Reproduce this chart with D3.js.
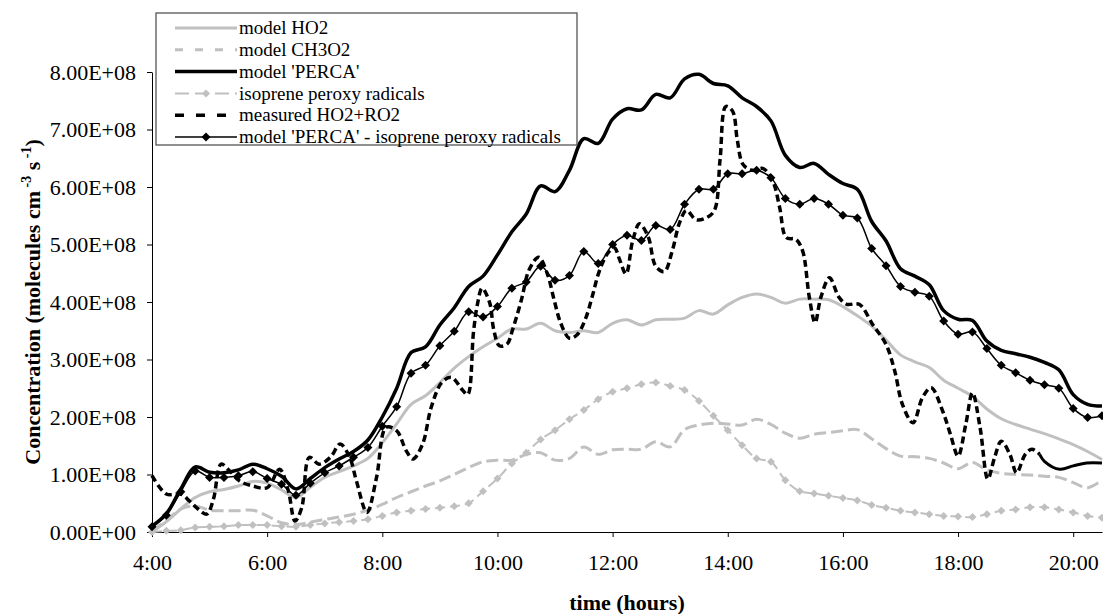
<!DOCTYPE html>
<html>
<head>
<meta charset="utf-8">
<script src="https://cdn.jsdelivr.net/npm/d3@7"></script>
<style>
  body { margin: 0; background: #fff; }
  svg { display: block; }
</style>
</head>
<body>
<svg id="chart" width="1103" height="614"></svg>
<script>
// Concentrations are given in units of 1e8 molecules cm^-3 s^-1.
const UNIT = 1e8;
const FONT = "'Liberation Serif', 'Times New Roman', Times, serif";

// Model output, every 15 minutes
const modelTimes = ["4:00","4:15","4:30","4:45","5:00","5:15","5:30","5:45","6:00","6:15","6:30","6:45",
  "7:00","7:15","7:30","7:45","8:00","8:15","8:30","8:45","9:00","9:15","9:30","9:45",
  "10:00","10:15","10:30","10:45","11:00","11:15","11:30","11:45","12:00","12:15","12:30","12:45",
  "13:00","13:15","13:30","13:45","14:00","14:15","14:30","14:45","15:00","15:15","15:30","15:45",
  "16:00","16:15","16:30","16:45","17:00","17:15","17:30","17:45","18:00","18:15","18:30","18:45",
  "19:00","19:15","19:30","19:45","20:00","20:15","20:30"];

const modelHO2 = [0.00,0.18,0.40,0.60,0.70,0.74,0.80,0.88,0.85,0.73,0.60,0.78,
  0.95,1.05,1.15,1.28,1.55,1.88,2.22,2.37,2.60,2.85,3.05,3.22,
  3.37,3.53,3.53,3.63,3.50,3.47,3.50,3.47,3.63,3.69,3.60,3.69,
  3.70,3.72,3.85,3.79,3.95,4.08,4.14,4.08,3.98,4.05,4.05,4.04,
  3.92,3.76,3.58,3.34,3.08,2.96,2.86,2.64,2.50,2.36,2.14,1.97,
  1.87,1.79,1.71,1.62,1.52,1.40,1.26];

const modelCH3O2 = [0.02,0.20,0.40,0.45,0.38,0.37,0.37,0.38,0.28,0.16,0.13,0.17,
  0.22,0.26,0.31,0.38,0.48,0.60,0.70,0.80,0.89,1.00,1.12,1.22,
  1.25,1.25,1.35,1.38,1.25,1.28,1.48,1.35,1.43,1.44,1.44,1.57,
  1.48,1.78,1.86,1.89,1.88,1.86,1.96,1.87,1.72,1.63,1.70,1.73,
  1.76,1.78,1.62,1.45,1.32,1.31,1.28,1.20,1.10,1.21,1.08,1.02,
  1.00,0.99,0.97,0.95,0.86,0.77,0.90];

const modelPERCA = [0.10,0.32,0.75,1.13,1.04,1.03,1.08,1.18,1.10,0.97,0.75,0.93,
  1.12,1.27,1.40,1.60,2.00,2.50,3.12,3.22,3.60,3.90,4.27,4.45,
  4.82,5.22,5.53,6.02,5.92,6.29,6.84,6.76,7.18,7.36,7.34,7.61,
  7.55,7.88,7.96,7.80,7.76,7.55,7.40,7.15,6.55,6.34,6.41,6.22,
  6.06,5.96,5.40,5.06,4.58,4.45,4.30,3.85,3.70,3.68,3.32,3.16,
  3.10,3.04,2.95,2.82,2.39,2.22,2.19];

const isopreneRO2 = [0.00,0.02,0.03,0.08,0.09,0.10,0.12,0.12,0.12,0.10,0.09,0.12,
  0.15,0.17,0.19,0.22,0.28,0.34,0.37,0.40,0.42,0.45,0.50,0.71,
  0.93,1.19,1.38,1.61,1.77,1.96,2.12,2.31,2.44,2.50,2.57,2.60,
  2.54,2.47,2.28,2.02,1.77,1.51,1.28,1.22,0.90,0.71,0.67,0.63,
  0.59,0.55,0.47,0.42,0.37,0.34,0.31,0.28,0.27,0.26,0.31,0.37,
  0.39,0.43,0.43,0.39,0.34,0.28,0.25];

const percaMinusIsoprene = [0.09,0.29,0.70,1.06,0.95,0.95,0.98,1.05,0.93,0.83,0.64,0.85,
  1.03,1.15,1.30,1.47,1.84,2.18,2.76,2.90,3.24,3.49,3.83,3.74,
  3.92,4.24,4.35,4.62,4.38,4.46,4.88,4.67,5.00,5.16,5.07,5.33,
  5.26,5.70,5.96,5.96,6.23,6.23,6.29,6.16,5.80,5.70,5.80,5.70,
  5.51,5.46,4.93,4.63,4.27,4.17,4.10,3.67,3.44,3.48,3.19,2.90,
  2.77,2.64,2.56,2.50,2.15,1.99,2.02];

// PERCA measurements of HO2+RO2
const measTimes = ["4:00","4:15","4:30","4:39","4:48","4:57","5:04","5:12","5:21","5:31","5:45","6:00",
  "6:13","6:22","6:29","6:36","6:44","6:54","7:06","7:16","7:26","7:33","7:44","7:54",
  "8:04","8:15","8:25","8:32","8:42","8:51","9:02","9:12","9:24","9:29","9:35","9:39",
  "9:44","9:52","9:56","10:02","10:10","10:16","10:25","10:33","10:43","10:52","10:59","11:06",
  "11:15","11:23","11:32","11:39","11:46","11:55","12:02","12:07","12:14","12:21","12:28","12:37",
  "12:45","12:54","13:02","13:10","13:17","13:27","13:37","13:46","13:52","13:58","14:05","14:10",
  "14:16","14:26","14:37","14:47","14:54","15:01","15:11","15:18","15:25","15:31","15:37","15:46",
  "15:56","16:04","16:17","16:31","16:45","16:54","17:02","17:13","17:23","17:32","17:44","17:52",
  "18:00","18:08","18:15","18:23","18:31","18:38","18:45","18:54","19:01","19:10","19:17","19:25",
  "19:30","19:46","20:00","20:14","20:30"];

const measHO2RO2 = [0.98,0.66,0.66,0.54,0.40,0.31,0.57,1.18,1.06,0.89,0.80,0.77,
  1.09,0.72,0.19,0.42,1.30,1.18,1.30,1.53,1.30,0.89,0.34,0.95,
  1.82,1.76,1.41,1.27,1.53,2.17,2.60,2.69,2.46,2.39,3.47,3.95,
  4.24,3.98,3.53,3.24,3.27,3.53,4.04,4.56,4.78,4.49,4.04,3.63,
  3.37,3.43,3.72,4.11,4.53,4.85,4.94,4.75,4.49,5.07,5.36,5.14,
  4.62,4.53,4.88,5.39,5.59,5.43,5.46,5.59,6.48,7.40,7.32,6.81,
  6.39,6.29,6.32,6.10,5.65,5.12,5.09,4.89,4.08,3.64,4.08,4.42,
  4.08,3.96,3.96,3.61,3.26,2.80,2.22,1.90,2.34,2.51,2.10,1.70,
  1.32,1.87,2.42,1.81,0.92,1.29,1.58,1.35,1.03,1.35,1.44,1.35,
  1.23,1.09,1.15,1.20,1.20];
// from this time on the measurements are dense enough that the dashes run together
const measDenseFrom = "19:25";

const yTicks = [0, 1, 2, 3, 4, 5, 6, 7, 8];
const xTickLabels = ["4:00","6:00","8:00","10:00","12:00","14:00","16:00","18:00","20:00"];

const toHours = s => { const [h, m] = s.split(":").map(Number); return h + m / 60; };

const svg = d3.select("#chart").attr("font-family", FONT);

const x = d3.scaleLinear().domain([4, 20.5]).range([152, 1102]);
const y = d3.scaleLinear().domain([0, 8]).range([532, 72]);

const fmtSci = v => {
  const [m, e] = (v * UNIT).toExponential(2).split("e");
  const sign = e[0] === "-" ? "-" : "+";
  const digits = e.replace(/[+-]/, "").padStart(2, "0");
  return `${m}E${sign}${digits}`;
};

// Axes
const xAxis = d3.axisBottom(x)
  .tickValues(xTickLabels.map(toHours))
  .tickFormat((d, i) => xTickLabels[i])
  .tickSize(5).tickSizeOuter(0).tickPadding(17);
const gx = svg.append("g").attr("transform", `translate(0,${y(0)})`).call(xAxis)
  .attr("font-family", FONT).attr("font-size", 22);
gx.select(".domain").attr("stroke", "#000").attr("stroke-width", 1);
gx.selectAll(".tick line").attr("stroke", "#000");
gx.selectAll("text").attr("fill", "#000");

const yAxis = d3.axisLeft(y)
  .tickValues(yTicks)
  .tickFormat(fmtSci)
  .tickSize(5).tickSizeOuter(0).tickPadding(11);
const gy = svg.append("g").attr("transform", `translate(${x(4)},0)`).call(yAxis)
  .attr("font-family", FONT).attr("font-size", 22);
gy.select(".domain").attr("stroke", "#000").attr("stroke-width", 1);
gy.selectAll(".tick line").attr("stroke", "#000");
gy.selectAll("text").attr("fill", "#000");

// Axis titles
svg.append("text")
  .attr("x", (x.range()[0] + x.range()[1]) / 2).attr("y", 610)
  .attr("text-anchor", "middle").attr("font-family", FONT)
  .attr("font-size", 22).attr("font-weight", "bold")
  .text("time (hours)");

const yt = svg.append("text")
  .attr("transform", `translate(40,${(y(0) + y(8)) / 2}) rotate(-90)`)
  .attr("text-anchor", "middle").attr("font-family", FONT)
  .attr("font-size", 22).attr("font-weight", "bold");
yt.append("tspan").text("Concentration (molecules cm");
yt.append("tspan").attr("font-size", 14).attr("dy", -9).text(" -3");
yt.append("tspan").attr("dy", 9).text(" s");
yt.append("tspan").attr("font-size", 14).attr("dy", -9).text(" -1");
yt.append("tspan").attr("dy", 9).text(")");

// Series
const modelH = modelTimes.map(toHours);
const measH = measTimes.map(toHours);
const pts = (hours, vals) => hours.map((h, i) => ({ h, v: vals[i] }));

const line = d3.line().x(d => x(d.h)).y(d => y(d.v)).curve(d3.curveCatmullRom.alpha(0.5));

const GRAY = "#c0c0c0";
const series = [
  { name: "model HO2", data: pts(modelH, modelHO2), color: GRAY, width: 3, dash: null, marker: false },
  { name: "model CH3O2", data: pts(modelH, modelCH3O2), color: GRAY, width: 3, dash: "12,5", legendDash: "8,12", marker: false },
  { name: "model 'PERCA'", data: pts(modelH, modelPERCA), color: "#000", width: 3.5, dash: null, marker: false },
  { name: "isoprene peroxy radicals", data: pts(modelH, isopreneRO2), color: GRAY, width: 2, dash: "10,5", legendDash: "14,6", marker: true, msize: 8 },
  { name: "measured HO2+RO2", data: pts(measH, measHO2RO2), color: "#000", width: 3.5, dash: "7,4", legendDash: "9,12", marker: false,
    denseFrom: toHours(measDenseFrom) },
  { name: "model 'PERCA' - isoprene peroxy radicals", data: pts(modelH, percaMinusIsoprene), color: "#000", width: 1.5, dash: null, marker: true, msize: 9 }
];

const diamond = s => { const r = s / 2; return `M0,${-r}L${r},0L0,${r}L${-r},0Z`; };

const plot = svg.append("g");
series.forEach(s => {
  if (s.denseFrom !== undefined) {
    const sparse = s.data.filter(d => d.h <= s.denseFrom);
    const dense = s.data.filter(d => d.h >= s.denseFrom);
    plot.append("path").datum(sparse)
      .attr("d", line).attr("fill", "none")
      .attr("stroke", s.color).attr("stroke-width", s.width)
      .attr("stroke-dasharray", s.dash);
    plot.append("path").datum(dense)
      .attr("d", line).attr("fill", "none")
      .attr("stroke", s.color).attr("stroke-width", 3);
  } else {
    plot.append("path").datum(s.data)
      .attr("d", line).attr("fill", "none")
      .attr("stroke", s.color).attr("stroke-width", s.width)
      .attr("stroke-dasharray", s.dash).attr("stroke-linejoin", "round");
  }
  if (s.marker) {
    plot.append("g").selectAll("path").data(s.data).join("path")
      .attr("transform", d => `translate(${x(d.h)},${y(d.v)})`)
      .attr("d", diamond(s.msize)).attr("fill", s.color);
  }
});

// Legend
const lg = svg.append("g");
lg.append("rect").attr("x", 156).attr("y", 13).attr("width", 421).attr("height", 132)
  .attr("fill", "#fff").attr("stroke", "#555").attr("stroke-width", 1.3);
series.forEach((s, i) => {
  const cy = 28 + i * 21.8;
  lg.append("line").attr("x1", 175).attr("x2", 237).attr("y1", cy).attr("y2", cy)
    .attr("stroke", s.color).attr("stroke-width", s.width)
    .attr("stroke-dasharray", s.legendDash || s.dash);
  if (s.marker) {
    lg.append("path").attr("transform", `translate(206,${cy})`).attr("d", diamond(s.msize)).attr("fill", s.color);
  }
  lg.append("text").attr("x", 239).attr("y", cy).attr("dy", "0.33em")
    .attr("font-family", FONT).attr("font-size", 19).attr("fill", "#000").text(s.name);
});
</script>
</body>
</html>
